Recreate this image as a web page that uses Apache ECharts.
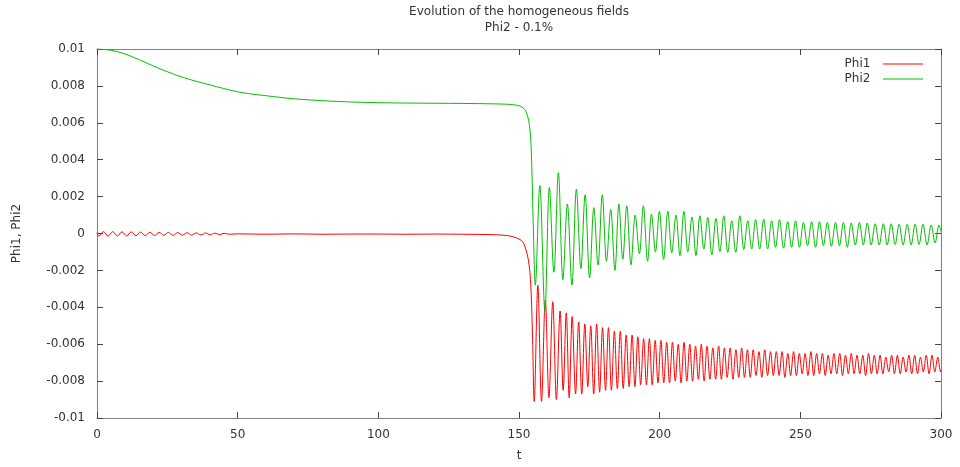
<!DOCTYPE html>
<html>
<head>
<meta charset="utf-8">
<script src="https://cdn.jsdelivr.net/npm/echarts@6/dist/echarts.min.js"></script>
<style>
html,body{margin:0;padding:0;background:#fff;}
#chart{width:960px;height:467px;}
</style>
</head>
<body>
<div id="chart"></div>
<script>
// Axis ticks
const xTicks = [0, 50, 100, 150, 200, 250, 300];
const yTicks = [-0.01, -0.008, -0.006, -0.004, -0.002, 0, 0.002, 0.004, 0.006, 0.008, 0.01];
const seriesNames = ['Phi1', 'Phi2'];

// Phi1 (red): [t, value]
const phi1Early = [
  [0, 0.00005], [0.65, -0.00014], [2.3, 0.0001], [3.95, -0.00014], [5.6, 0.0001], [7.25, -0.00013],
  [8.9, 0.00009], [10.55, -0.00013], [12.2, 0.00009], [13.85, -0.00012], [15.5, 0.00008], [17.15, -0.00012],
  [18.8, 0.00007], [20.45, -0.00011], [22.1, 0.00006], [23.75, -0.0001], [25.4, 0.00006], [27.05, -0.0001],
  [28.7, 0.00005], [30.35, -0.00009], [32.0, 0.00004], [33.65, -0.00009], [35.3, 0.00003], [36.95, -0.00008],
  [38.6, 0.00003], [40.25, -0.00007], [41.9, 0.00002], [43.55, -0.00006], [45.2, 0.00001], [46.85, -0.00004],
  [50, -0.00002], [60, -0.00004], [70, -0.00002], [80, -0.00004], [90, -0.00003], [100, -0.00003],
  [110, -0.00004], [120, -0.00003], [130, -0.00004], [140, -0.00006], [145, -0.0001], [148, -0.00018],
  [150, -0.0003], [151.4, -0.00046], [152.5, -0.0009], [153.3, -0.0014], [154.1, -0.0025], [154.8, -0.0055]
];
const phi1Osc = [
  [155.4, -0.0091], [156.7, -0.0028], [158.0, -0.0091], [159.35, -0.0036], [160.65, -0.0089], [162.0, -0.0037],
  [163.3, -0.009], [164.6, -0.0042], [165.7, -0.0085], [166.8, -0.0043], [167.85, -0.0089], [168.9, -0.0045],
  [170.1, -0.0087], [171.2, -0.0048], [172.3, -0.0087], [173.4, -0.0049], [174.45, -0.0083], [175.5, -0.005],
  [176.55, -0.0087], [177.6, -0.0049], [178.65, -0.0086], [179.7, -0.0051], [180.75, -0.0085], [181.8, -0.0051],
  [182.85, -0.0085], [183.9, -0.0053], [184.95, -0.0084], [186.0, -0.0053], [187.05, -0.0084], [188.1, -0.0055],
  [189.15, -0.0083], [190.2, -0.0055], [191.2, -0.0083], [192.25, -0.0056], [193.25, -0.0082], [194.3, -0.0057],
  [195.3, -0.0082], [196.35, -0.0057], [197.35, -0.0082], [198.4, -0.0058], [199.4, -0.0081], [200.45, -0.0058],
  [201.45, -0.0081], [202.5, -0.0059], [203.5, -0.0081], [204.55, -0.0059], [205.55, -0.008], [206.6, -0.006],
  [207.6, -0.0081], [208.65, -0.0059], [209.65, -0.008], [210.7, -0.006], [211.7, -0.008], [212.75, -0.0061],
  [213.75, -0.0079], [214.8, -0.006], [215.8, -0.008], [216.85, -0.0061], [217.85, -0.0079], [218.9, -0.0062],
  [219.9, -0.0079], [220.95, -0.0061], [221.95, -0.0079], [223.0, -0.0062], [224.0, -0.0078], [225.05, -0.0062],
  [226.05, -0.0079], [227.1, -0.0063], [228.1, -0.0078], [229.15, -0.0062], [230.15, -0.0078], [231.2, -0.0063],
  [232.2, -0.0078], [233.25, -0.0063], [234.25, -0.0077], [235.3, -0.0064], [236.3, -0.0078], [237.35, -0.0063],
  [238.35, -0.0077], [239.4, -0.0064], [240.4, -0.0077], [241.45, -0.0064], [242.45, -0.0077], [243.5, -0.0064],
  [244.5, -0.0078], [245.55, -0.0065], [246.55, -0.0077], [247.6, -0.0064], [248.6, -0.0077], [249.65, -0.0065],
  [250.65, -0.0076], [251.7, -0.0065], [252.7, -0.0077], [253.75, -0.0064], [254.75, -0.0077], [255.8, -0.0065],
  [256.8, -0.0076], [257.85, -0.0065], [258.85, -0.0077], [259.9, -0.0066], [260.9, -0.0076], [261.95, -0.0065],
  [262.95, -0.0076], [264.0, -0.0065], [265.0, -0.0077], [266.05, -0.0066], [267.05, -0.0076], [268.1, -0.0065],
  [269.1, -0.0076], [270.15, -0.0066], [271.15, -0.0076], [272.2, -0.0066], [273.2, -0.0077], [274.25, -0.0065],
  [275.25, -0.0076], [276.3, -0.0066], [277.3, -0.0076], [278.35, -0.0066], [279.35, -0.0076], [280.4, -0.0067],
  [281.4, -0.0075], [282.45, -0.0066], [283.45, -0.0076], [284.5, -0.0066], [285.5, -0.0076], [286.55, -0.0067],
  [287.55, -0.0075], [288.6, -0.0066], [289.6, -0.0076], [290.65, -0.0066], [291.65, -0.0076], [292.7, -0.0067],
  [293.7, -0.0075], [294.75, -0.0066], [295.75, -0.0076], [296.8, -0.0066], [297.8, -0.0075], [298.85, -0.0067],
  [299.85, -0.0075], [300, -0.0074]
];

// Phi2 (green): [t, value]
const phi2Early = [
  [0, 0.01], [5, 0.00993], [10, 0.00973], [15, 0.00942], [20, 0.00908], [25, 0.00877], [30, 0.00849],
  [35, 0.00826], [40, 0.00806], [45, 0.00786], [50, 0.00768], [55, 0.00756], [60, 0.00747], [65, 0.00738],
  [70, 0.0073], [80, 0.0072], [90, 0.00713], [100, 0.00709], [110, 0.00707], [120, 0.00706], [130, 0.00705],
  [140, 0.00703], [145, 0.00701], [148, 0.00698], [151, 0.00686], [152.7, 0.00653], [153.9, 0.00563],
  [154.5, 0.00384], [155.1, 0.00024]
];
const phi2Osc = [
  [155.8, -0.0028], [157.4, 0.0026], [159.2, -0.0042], [160.8, 0.0025], [162.4, -0.0021], [164.0, 0.0033],
  [165.6, -0.0025], [167.2, 0.0016], [168.8, -0.0028], [170.4, 0.0024], [172.0, -0.0019], [173.5, 0.0021],
  [175.1, -0.0024], [176.6, 0.0014], [178.1, -0.0017], [179.6, 0.0021], [181.1, -0.0015], [182.6, 0.0013],
  [184.1, -0.002], [185.5, 0.0016], [186.9, -0.0014], [188.3, 0.0015], [189.8, -0.0017], [191.3, 0.001],
  [192.8, -0.0011], [194.2, 0.0015], [195.7, -0.0015], [197.1, 0.00105], [198.5, -0.001], [199.9, 0.0012],
  [201.4, -0.0014], [202.9, 0.0012], [204.3, -0.00105], [205.8, 0.001], [207.2, -0.0012], [208.6, 0.0012],
  [210.0, -0.001], [211.5, 0.0009], [212.9, -0.0012], [214.3, 0.00096], [215.7, -0.00084], [217.1, 0.00087],
  [218.55, -0.00116], [220.0, 0.00082], [221.4, -0.00098], [222.8, 0.00096], [224.2, -0.00102], [225.6, 0.00069],
  [227.05, -0.00102], [228.5, 0.00096], [229.9, -0.00087], [231.3, 0.00069], [232.7, -0.00084], [234.1, 0.00075],
  [235.55, -0.00084], [237.0, 0.00078], [238.4, -0.00084], [239.8, 0.00069], [241.2, -0.00075], [242.6, 0.00075],
  [244.05, -0.0008], [245.5, 0.00064], [246.9, -0.00075], [248.3, 0.00069], [249.7, -0.00075], [251.1, 0.0006],
  [252.55, -0.00066], [254.0, 0.00064], [255.4, -0.00075], [256.8, 0.00064], [258.2, -0.00066], [259.6, 0.0006],
  [261.05, -0.0007], [262.5, 0.0006], [263.9, -0.00066], [265.3, 0.0006], [266.7, -0.00075], [268.1, 0.00057],
  [269.55, -0.00062], [271.0, 0.0006], [272.4, -0.00062], [273.8, 0.00057], [275.2, -0.00062], [276.6, 0.00053],
  [278.05, -0.00062], [279.5, 0.00053], [280.9, -0.00062], [282.3, 0.00053], [283.7, -0.0006], [285.1, 0.0005],
  [286.55, -0.00062], [288.0, 0.0005], [289.4, -0.00062], [290.8, 0.0005], [292.2, -0.0006], [293.6, 0.0005],
  [295.05, -0.00062], [296.5, 0.00046], [297.9, -0.00051], [299.3, 0.00046], [300, 0.0001]
];

const FONT = 'DejaVu Sans';
const TXT = '#333';
const BORDER = '#808080';
const TICK = '#444';

const chart = echarts.init(document.getElementById('chart'), null, {renderer: 'canvas'});

function fmtY(v) { return String(+Number(v).toFixed(3)); }

const axisCommon = {
  type: 'value',
  axisLine: {show: true, onZero: false, lineStyle: {color: BORDER, width: 1}},
  axisTick: {show: true, inside: true, length: 6, lineStyle: {color: TICK, width: 1}},
  splitLine: {show: false},
  minorTick: {show: false}
};

chart.setOption({
  animation: false,
  backgroundColor: '#fff',
  title: {
    text: 'Evolution of the homogeneous fields\nPhi2 - 0.1%',
    left: 519, top: 4, textAlign: 'center', padding: 0,
    textStyle: {fontFamily: FONT, fontSize: 12, fontWeight: 'normal', color: TXT, lineHeight: 16}
  },
  legend: {
    data: seriesNames.map(n => ({name: n, icon: 'rect'})),
    orient: 'vertical', align: 'right',
    right: 37, top: 58, padding: 0,
    itemWidth: 40, itemHeight: 1, itemGap: 3,
    formatter: n => n + '  ',
    textStyle: {fontFamily: FONT, fontSize: 12, color: TXT}
  },
  grid: {left: 97, right: 19, top: 49, bottom: 47, containLabel: false},
  xAxis: [
    Object.assign({}, axisCommon, {
      position: 'bottom', min: xTicks[0], max: xTicks[xTicks.length - 1], interval: 50,
      name: 't', nameLocation: 'middle', nameGap: 32,
      nameTextStyle: {fontFamily: FONT, fontSize: 12, color: TXT},
      axisLabel: {margin: 11, fontFamily: FONT, fontSize: 12, color: TXT}
    }),
    Object.assign({}, axisCommon, {
      position: 'top', min: xTicks[0], max: xTicks[xTicks.length - 1], interval: 50,
      axisLabel: {show: false}
    })
  ],
  yAxis: [
    Object.assign({}, axisCommon, {
      position: 'left', min: yTicks[0], max: yTicks[yTicks.length - 1], interval: 0.002,
      name: 'Phi1, Phi2', nameLocation: 'middle', nameRotate: 90, nameGap: 74,
      nameTextStyle: {fontFamily: FONT, fontSize: 12, color: TXT},
      axisLabel: {margin: 12, fontFamily: FONT, fontSize: 12, color: TXT, formatter: fmtY}
    }),
    Object.assign({}, axisCommon, {
      position: 'right', min: yTicks[0], max: yTicks[yTicks.length - 1], interval: 0.002,
      axisLabel: {show: false}
    })
  ],
  series: [
    {
      name: seriesNames[0], type: 'line', data: phi1Early.concat(phi1Osc),
      showSymbol: false, symbol: 'none', smooth: 0.35,
      lineStyle: {color: '#ff0000', width: 1}, itemStyle: {color: '#ff0000'}
    },
    {
      name: seriesNames[1], type: 'line', data: phi2Early.concat(phi2Osc),
      showSymbol: false, symbol: 'none', smooth: 0.35,
      lineStyle: {color: '#00c000', width: 1}, itemStyle: {color: '#00c000'}
    }
  ]
});
</script>
</body>
</html>
